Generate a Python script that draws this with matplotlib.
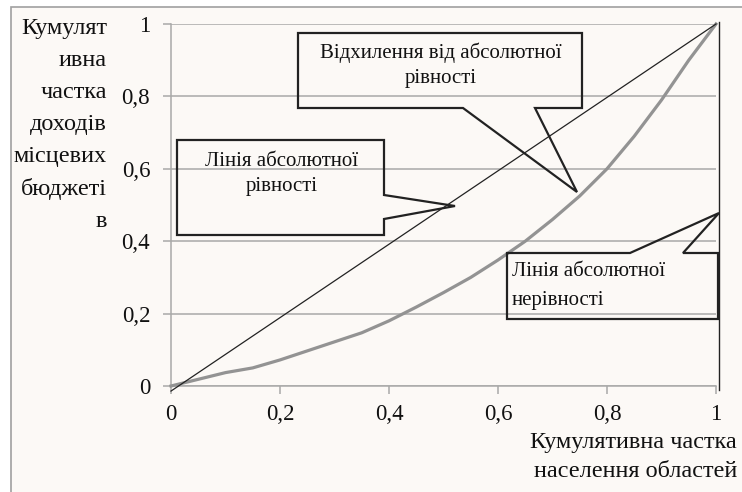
import matplotlib
matplotlib.use("Agg")
import matplotlib.pyplot as plt
from matplotlib.patches import Rectangle, Polygon
from matplotlib.ticker import FixedLocator

plt.rcParams['font.family'] = ['Liberation Serif', 'DejaVu Serif']

# ---- data ----
pop_share = [0, 0.10, 0.15, 0.20, 0.25, 0.30, 0.35, 0.40, 0.45, 0.50, 0.55,
             0.60, 0.65, 0.70, 0.75, 0.80, 0.85, 0.90, 0.95, 1.00]
income_share = [0, 0.037, 0.050, 0.072, 0.097, 0.122, 0.147, 0.180, 0.218, 0.258,
                0.300, 0.348, 0.400, 0.460, 0.525, 0.600, 0.690, 0.790, 0.900, 1.000]
equality_x = [0, 1]
equality_y = [-0.014, 1.0]
inequality_x = [1.006, 1.006]
inequality_y = [1.005, -0.01]
ticks = [0, 0.2, 0.4, 0.6, 0.8, 1.0]
tick_labels = ["0", "0,2", "0,4", "0,6", "0,8", "1"]

y_title = "Кумулят\nивна\nчастка\nдоходів\nмісцевих\nбюджеті\nв"
x_title = "Кумулятивна частка\nнаселення областей"
callout1_text = "Відхилення від абсолютної\nрівності"
callout2_text = "Лінія абсолютної\nрівності"
callout3_text = "Лінія абсолютної\nнерівності"

W, H = 742, 492
BG = "#fcf9f6"
GRID = "#a9a9a9"
INK = "#222222"
FS = 16.5
TFS = 17.5
CFS = 15

fig = plt.figure(figsize=(W / 100, H / 100), dpi=100, facecolor="white")
fig.patches.append(Rectangle((11 / W, -0.05), 1.2, (H - 7) / H + 0.05,
                             transform=fig.transFigure, facecolor=BG,
                             edgecolor="#a0a0a0", linewidth=1.2, zorder=-10))

ax = fig.add_axes([171 / W, 1 - 386 / H, 545 / W, 362 / H])
ax.set_zorder(1)
ax.patch.set_alpha(0)
ax.set_xlim(0, 1)
ax.set_ylim(0, 1)
for s in ["top", "right"]:
    ax.spines[s].set_visible(False)
for s in ["left", "bottom"]:
    ax.spines[s].set_color(GRID)
    ax.spines[s].set_linewidth(1.1)
ax.xaxis.set_major_locator(FixedLocator(ticks))
ax.yaxis.set_major_locator(FixedLocator(ticks))
ax.set_xticklabels(tick_labels)
ax.set_yticklabels(tick_labels)
ax.tick_params(axis="both", direction="out", length=6, width=1.1, color=GRID,
               labelsize=FS, labelcolor="#111111")
ax.tick_params(axis="y", pad=9)
ax.tick_params(axis="x", pad=7)
ax.yaxis.grid(True, color=GRID, linewidth=1.1)
ax.set_axisbelow(True)

ax.plot(pop_share, income_share, color="#939393", linewidth=2.3, clip_on=False, zorder=3)
ax.plot(equality_x, equality_y, color=INK, linewidth=0.9, clip_on=False, zorder=4)
ax.plot(inequality_x, inequality_y, color=INK, linewidth=1.0, clip_on=False, zorder=4)


def px(x, y):
    return ((x - 171) / 545, (386 - y) / 362)


def callout(points):
    poly = Polygon([px(*p) for p in points], closed=True, fill=False,
                   edgecolor=INK, linewidth=1.6, clip_on=False, zorder=5,
                   joinstyle="miter")
    ax.add_patch(poly)


# callout 1
callout([(298, 33), (582, 33), (582, 108), (535, 108), (577, 192), (463, 108), (298, 108)])
# callout 2
callout([(177, 140), (384, 140), (384, 195), (455, 206), (384, 219), (384, 235), (177, 235)])
# callout 3
callout([(507, 253), (630, 253), (719, 213), (683, 253), (718, 253), (718, 319), (507, 319)])

tf = ax.transData
ax.text(*px(441, 65), callout1_text, ha="center", va="center", fontsize=CFS,
        linespacing=1.45, color="#111111", transform=tf)
ax.text(*px(282, 174), callout2_text, ha="center", va="center", fontsize=CFS,
        linespacing=1.45, color="#111111", transform=tf)
ax.text(*px(512, 286), callout3_text, ha="left", va="center", fontsize=CFS,
        linespacing=1.7, color="#111111", transform=tf)

fig.text(107 / W, 1 - 125 / H, y_title, ha="right", va="center", multialignment="right",
         fontsize=TFS, linespacing=1.68, color="#111111")
fig.text(737 / W, 1 - 457 / H, x_title, ha="right", va="center", multialignment="right",
         fontsize=TFS, linespacing=1.55, color="#111111")

fig.savefig("out.png", dpi=100, facecolor="white")
